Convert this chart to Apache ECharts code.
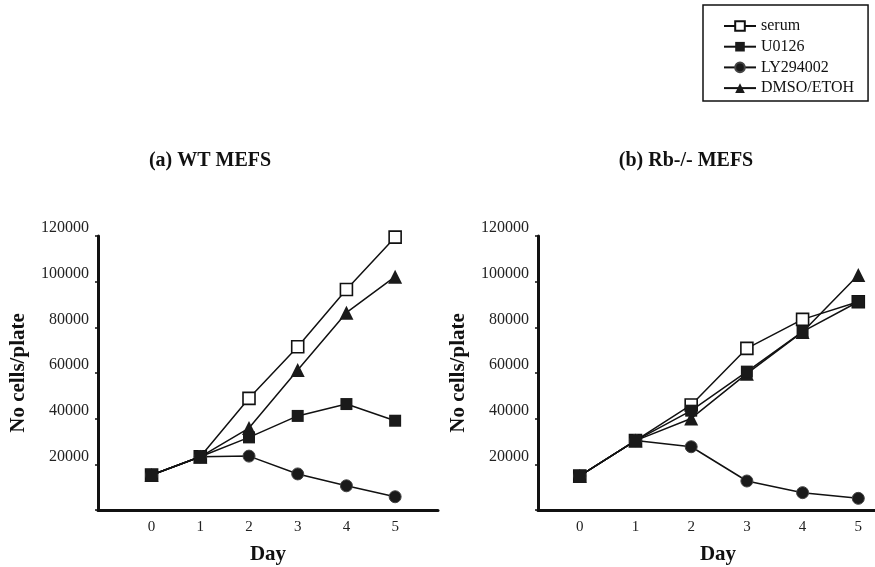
<!DOCTYPE html>
<html>
<head>
<meta charset="utf-8">
<script src="https://cdn.jsdelivr.net/npm/echarts@6/dist/echarts.min.js"></script>
<style>
html,body{margin:0;padding:0;background:#fff;}
#chart{width:875px;height:567px;}
</style>
</head>
<body>
<div id="chart"></div>
<script>
const days = [0, 1, 2, 3, 4, 5];
const seriesNames = ['serum', 'U0126', 'LY294002', 'DMSO/ETOH'];
const yTicks = [20000, 40000, 60000, 80000, 100000, 120000];

// (a) WT MEFS
const wtSerum = [15300, 23300, 48900, 71500, 96600, 119500];
const wtU0126 = [15300, 23300, 31800, 41200, 46400, 39100];
const wtLY = [15300, 23300, 23600, 15800, 10600, 5800];
const wtDMSO = [15300, 23300, 35900, 61300, 86400, 102200];

// (b) Rb-/- MEFS
const rbSerum = [14900, 30400, 46000, 70800, 83500, 91200];
const rbU0126 = [14900, 30400, 43500, 60600, 78100, 91200];
const rbLY = [14900, 30400, 27700, 12700, 7600, 5100];
const rbDMSO = [14900, 30400, 40100, 59700, 78000, 102900];

const titles = ['(a) WT MEFS', '(b) Rb-/- MEFS'];
const yName = 'No cells/plate';
const xName = 'Day';

const FONT = 'Liberation Serif';
const zip = (vals) => days.map((d, i) => [d, vals[i]]);

const styles = [
  { symbol: 'rect', size: 12, itemStyle: { color: '#fff', borderColor: '#111', borderWidth: 1.6 }, z: 2 },
  { symbol: 'rect', size: 12, itemStyle: { color: '#1a1a1a', borderColor: '#1a1a1a', borderWidth: 0 }, z: 4 },
  { symbol: 'circle', size: 12, itemStyle: { color: '#1a1a1a', borderColor: '#444', borderWidth: 1 }, z: 2 },
  { symbol: 'triangle', size: 14, itemStyle: { color: '#1a1a1a', borderColor: '#1a1a1a', borderWidth: 0 }, z: 3 }
];

function mk(name, idx, gi, vals) {
  const s = styles[idx];
  return {
    name: name, type: 'line', xAxisIndex: gi, yAxisIndex: gi,
    data: zip(vals), symbol: s.symbol, symbolSize: s.size,
    itemStyle: s.itemStyle, z: s.z,
    lineStyle: { color: '#111', width: 1.5 },
    emphasis: { disabled: true }, animation: false
  };
}

function yAxis(gi) {
  return {
    type: 'value', gridIndex: gi, min: 0, max: 120000, interval: 20000,
    name: yName, nameLocation: 'middle', nameGap: 69,
    nameTextStyle: { fontFamily: FONT, fontWeight: 'bold', fontSize: 21, color: '#111' },
    axisLine: { show: true, onZero: false, lineStyle: { color: '#111', width: 3 } },
    axisTick: { show: true, inside: false, length: 3, lineStyle: { color: '#111', width: 1.5 } },
    splitLine: { show: false },
    axisLabel: {
      fontFamily: FONT, fontSize: 16, color: '#222', margin: 9, verticalAlign: 'bottom',
      formatter: (v) => (yTicks.indexOf(v) >= 0 ? String(v) : '')
    }
  };
}

function xAxis(gi, min, max, namePad) {
  return {
    type: 'value', gridIndex: gi, min: min, max: max,
    name: xName, nameLocation: 'middle', nameGap: 34,
    nameTextStyle: { fontFamily: FONT, fontWeight: 'bold', fontSize: 21, color: '#111', padding: namePad },
    axisLine: { show: true, onZero: false, lineStyle: { color: '#111', width: 3 } },
    axisTick: { show: false },
    splitLine: { show: false },
    axisLabel: { fontFamily: FONT, fontSize: 15, color: '#222', margin: 10, customValues: days,
      formatter: (v) => String(v) }
  };
}

const chart = echarts.init(document.getElementById('chart'), null, { renderer: 'canvas' });
chart.setOption({
  backgroundColor: '#fff',
  animation: false,
  title: [
    { text: titles[0], left: 205, top: 146, textAlign: 'center',
      textStyle: { fontFamily: FONT, fontWeight: 'bold', fontSize: 20, color: '#111' } },
    { text: titles[1], left: 681, top: 146, textAlign: 'center',
      textStyle: { fontFamily: FONT, fontWeight: 'bold', fontSize: 20, color: '#111' } }
  ],
  legend: {
    data: seriesNames, orient: 'vertical', left: 703, top: 5,
    padding: [13, 14, 5, 20], itemWidth: 32, itemHeight: 12, itemGap: 4.7,
    borderColor: '#111', borderWidth: 1.5,
    textStyle: { fontFamily: FONT, fontSize: 16, color: '#111' },
    selectedMode: false
  },
  grid: [
    { left: 98, top: 236, width: 340, height: 274 },
    { left: 538, top: 236, width: 337, height: 274 }
  ],
  xAxis: [xAxis(0, -1.1, 5.88, [0, 0, 0, 0]), xAxis(1, -0.75, 5.3, [0, 0, 0, 23])],
  yAxis: [yAxis(0), yAxis(1)],
  series: [
    mk(seriesNames[0], 0, 0, wtSerum),
    mk(seriesNames[1], 1, 0, wtU0126),
    mk(seriesNames[2], 2, 0, wtLY),
    mk(seriesNames[3], 3, 0, wtDMSO),
    mk(seriesNames[0], 0, 1, rbSerum),
    mk(seriesNames[1], 1, 1, rbU0126),
    mk(seriesNames[2], 2, 1, rbLY),
    mk(seriesNames[3], 3, 1, rbDMSO)
  ]
});
</script>
</body>
</html>
